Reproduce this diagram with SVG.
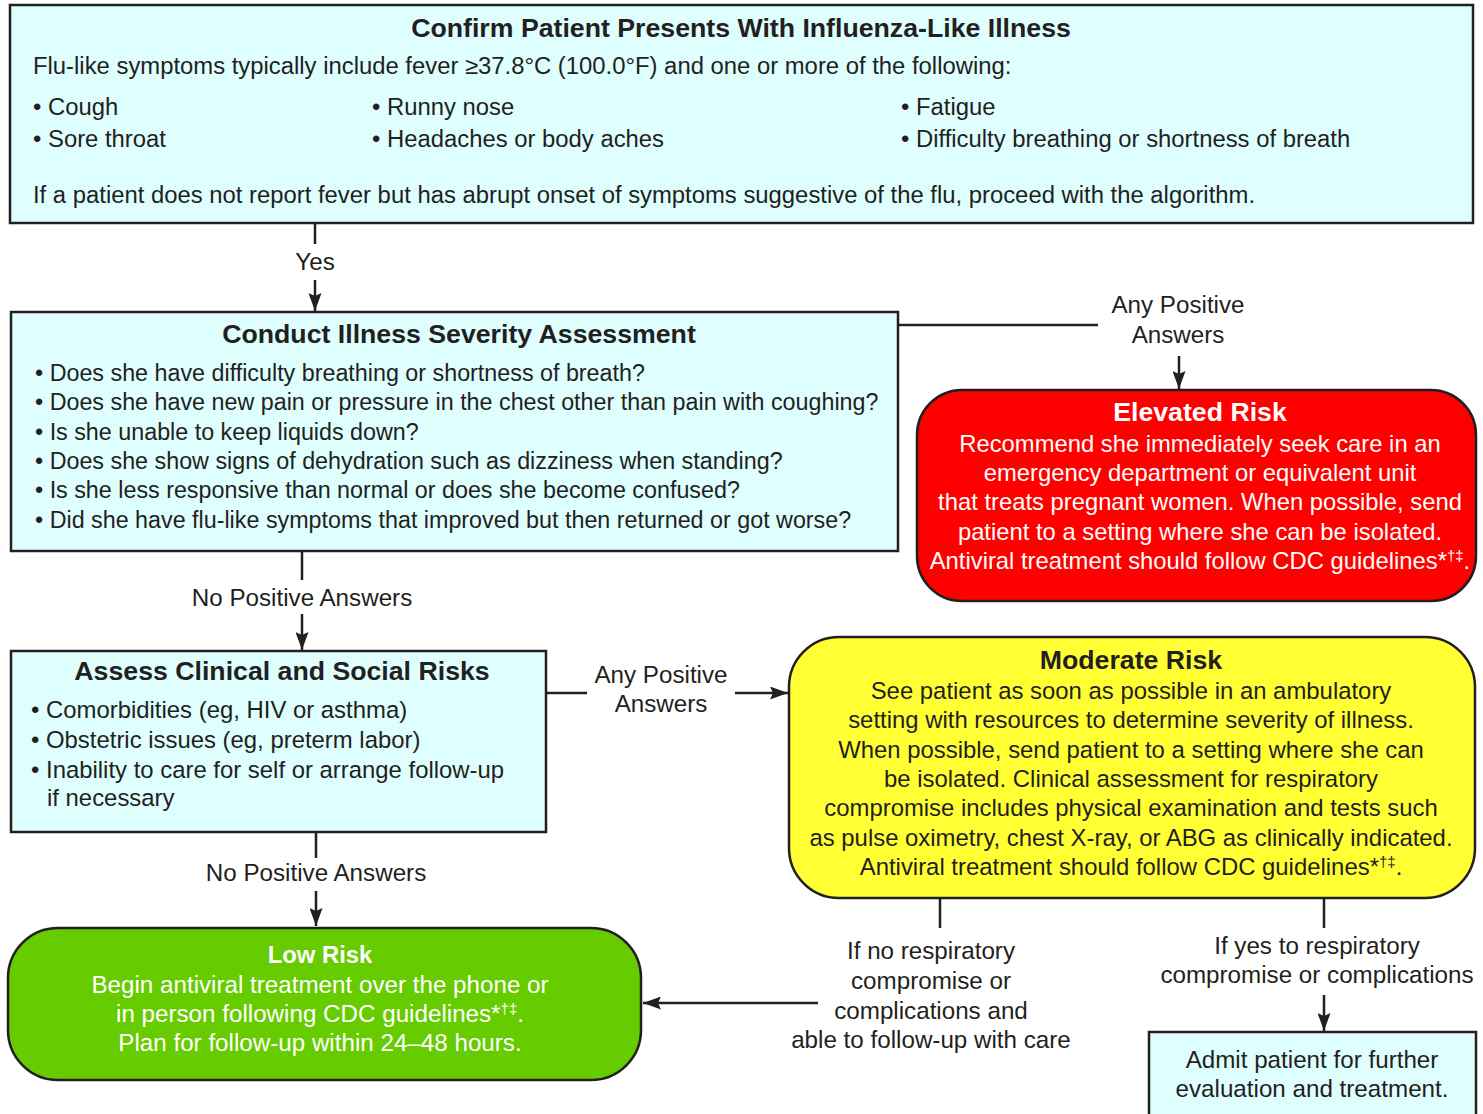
<svg xmlns="http://www.w3.org/2000/svg" width="1483" height="1114" viewBox="0 0 1483 1114">
<defs>
<marker id="arr" viewBox="0 0 18 13" refX="18" refY="6.5" markerWidth="18" markerHeight="13" markerUnits="userSpaceOnUse" orient="auto">
<path d="M0,0 L18,6.5 L0,13 L3,6.5 z" fill="#231f20"/>
</marker>
<style>
text{font-family:"Liberation Sans",Arial,sans-serif;fill:#231f20;font-size:23.85px}
.t{font-weight:bold;font-size:26.7px;text-anchor:middle}
.c{text-anchor:middle}
.w{fill:#fff}
.n{font-size:23.8px}
.s{font-size:23.3px}
.m{font-size:23.9px}
.lb{font-size:24.2px}
.box{fill:#dffefe;stroke:#231f20;stroke-width:2.5}
.ln{fill:none;stroke:#231f20;stroke-width:2.5}
</style>
</defs>
<rect width="1483" height="1114" fill="#fff"/>
<g id="connectors">
<line class="ln" x1="315" y1="223" x2="315" y2="244"/>
<line class="ln" x1="315" y1="280" x2="315" y2="311" marker-end="url(#arr)"/>
<text class="c lb" x="315" y="270">Yes</text>
<line class="ln" x1="898" y1="325" x2="1098" y2="325"/>
<text class="c lb" x="1178" y="313">Any Positive</text>
<text class="c lb" x="1178" y="343">Answers</text>
<line class="ln" x1="1179" y1="356" x2="1179" y2="389" marker-end="url(#arr)"/>
<line class="ln" x1="302" y1="551" x2="302" y2="580"/>
<text class="c lb" x="302" y="606">No Positive Answers</text>
<line class="ln" x1="302" y1="614" x2="302" y2="650" marker-end="url(#arr)"/>
<line class="ln" x1="546" y1="693" x2="587" y2="693"/>
<text class="c lb" x="661" y="683">Any Positive</text>
<text class="c lb" x="661" y="712">Answers</text>
<line class="ln" x1="735" y1="693" x2="788" y2="693" marker-end="url(#arr)"/>
<line class="ln" x1="316" y1="832" x2="316" y2="858"/>
<text class="c lb" x="316" y="881">No Positive Answers</text>
<line class="ln" x1="316" y1="891" x2="316" y2="926" marker-end="url(#arr)"/>
<line class="ln" x1="940" y1="898" x2="940" y2="928"/>
<text class="c lb" x="931" y="959">If no respiratory</text>
<text class="c lb" x="931" y="989">compromise or</text>
<text class="c lb" x="931" y="1019">complications and</text>
<text class="c lb" x="931" y="1048">able to follow-up with care</text>
<line class="ln" x1="818" y1="1003" x2="643" y2="1003" marker-end="url(#arr)"/>
<line class="ln" x1="1324" y1="898" x2="1324" y2="928"/>
<text class="c lb" x="1317" y="954">If yes to respiratory</text>
<text class="c lb" x="1317" y="983">compromise or complications</text>
<line class="ln" x1="1324" y1="995" x2="1324" y2="1031" marker-end="url(#arr)"/>
</g>
<g id="confirm">
<rect class="box" x="10" y="5" width="1463" height="218"/>
<text class="t" x="741" y="37">Confirm Patient Presents With Influenza-Like Illness</text>
<text x="33" y="74">Flu-like symptoms typically include fever ≥37.8°C (100.0°F) and one or more of the following:</text>
<text x="33" y="115">• Cough</text>
<text x="33" y="147">• Sore throat</text>
<text x="372" y="115">• Runny nose</text>
<text x="372" y="147">• Headaches or body aches</text>
<text x="901" y="115">• Fatigue</text>
<text x="901" y="147">• Difficulty breathing or shortness of breath</text>
<text x="33" y="203">If a patient does not report fever but has abrupt onset of symptoms suggestive of the flu, proceed with the algorithm.</text>
</g>
<g id="severity">
<rect class="box" x="11" y="312" width="887" height="239"/>
<text class="t" x="459" y="343">Conduct Illness Severity Assessment</text>
<text class="s" x="35" y="381">• Does she have difficulty breathing or shortness of breath?</text>
<text class="s" x="35" y="410">• Does she have new pain or pressure in the chest other than pain with coughing?</text>
<text class="s" x="35" y="440">• Is she unable to keep liquids down?</text>
<text class="s" x="35" y="469">• Does she show signs of dehydration such as dizziness when standing?</text>
<text class="s" x="35" y="498">• Is she less responsive than normal or does she become confused?</text>
<text class="s" x="35" y="528">• Did she have flu-like symptoms that improved but then returned or got worse?</text>
</g>
<g id="elevated">
<rect x="917" y="390" width="559" height="211" rx="45" fill="#ff0000" stroke="#231f20" stroke-width="2.5"/>
<text class="t w" x="1200" y="421">Elevated Risk</text>
<text class="c w n" x="1200" y="452">Recommend she immediately seek care in an</text>
<text class="c w n" x="1200" y="481">emergency department or equivalent unit</text>
<text class="c w n" x="1200" y="510">that treats pregnant women. When possible, send</text>
<text class="c w n" x="1200" y="540">patient to a setting where she can be isolated.</text>
<text class="c w n" x="1200" y="569">Antiviral treatment should follow CDC guidelines*<tspan font-size="15" dy="-8">†‡</tspan><tspan dy="8">.</tspan></text>
</g>
<g id="clinical">
<rect class="box" x="11" y="651" width="535" height="181"/>
<text class="t" x="282" y="680">Assess Clinical and Social Risks</text>
<text class="m" x="31" y="718">• Comorbidities (eg, HIV or asthma)</text>
<text class="m" x="31" y="748">• Obstetric issues (eg, preterm labor)</text>
<text class="m" x="31" y="778">• Inability to care for self or arrange follow-up</text>
<text class="m" x="47" y="806">if necessary</text>
</g>
<g id="moderate">
<rect x="789" y="637" width="686" height="261" rx="50" fill="#ffff33" stroke="#231f20" stroke-width="2.5"/>
<text class="t" x="1131" y="669">Moderate Risk</text>
<text class="c m" x="1131" y="699">See patient as soon as possible in an ambulatory</text>
<text class="c m" x="1131" y="728">setting with resources to determine severity of illness.</text>
<text class="c m" x="1131" y="758">When possible, send patient to a setting where she can</text>
<text class="c m" x="1131" y="787">be isolated. Clinical assessment for respiratory</text>
<text class="c m" x="1131" y="816">compromise includes physical examination and tests such</text>
<text class="c m" x="1131" y="846">as pulse oximetry, chest X-ray, or ABG as clinically indicated.</text>
<text class="c m" x="1131" y="875">Antiviral treatment should follow CDC guidelines*<tspan font-size="15" dy="-8">†‡</tspan><tspan dy="8">.</tspan></text>
</g>
<g id="low">
<rect x="8" y="928" width="633" height="152" rx="50" fill="#66cc00" stroke="#231f20" stroke-width="2.5"/>
<text class="c w" x="320" y="963" font-weight="bold" font-size="24">Low Risk</text>
<text class="c w lb" x="320" y="993">Begin antiviral treatment over the phone or</text>
<text class="c w lb" x="320" y="1022">in person following CDC guidelines*<tspan font-size="15" dy="-8">†‡</tspan><tspan dy="8">.</tspan></text>
<text class="c w lb" x="320" y="1051">Plan for follow-up within 24–48 hours.</text>
</g>
<g id="admit">
<rect class="box" x="1149" y="1032" width="327" height="90"/>
<text class="c lb" x="1312" y="1068">Admit patient for further</text>
<text class="c lb" x="1312" y="1097">evaluation and treatment.</text>
</g>
</svg>
